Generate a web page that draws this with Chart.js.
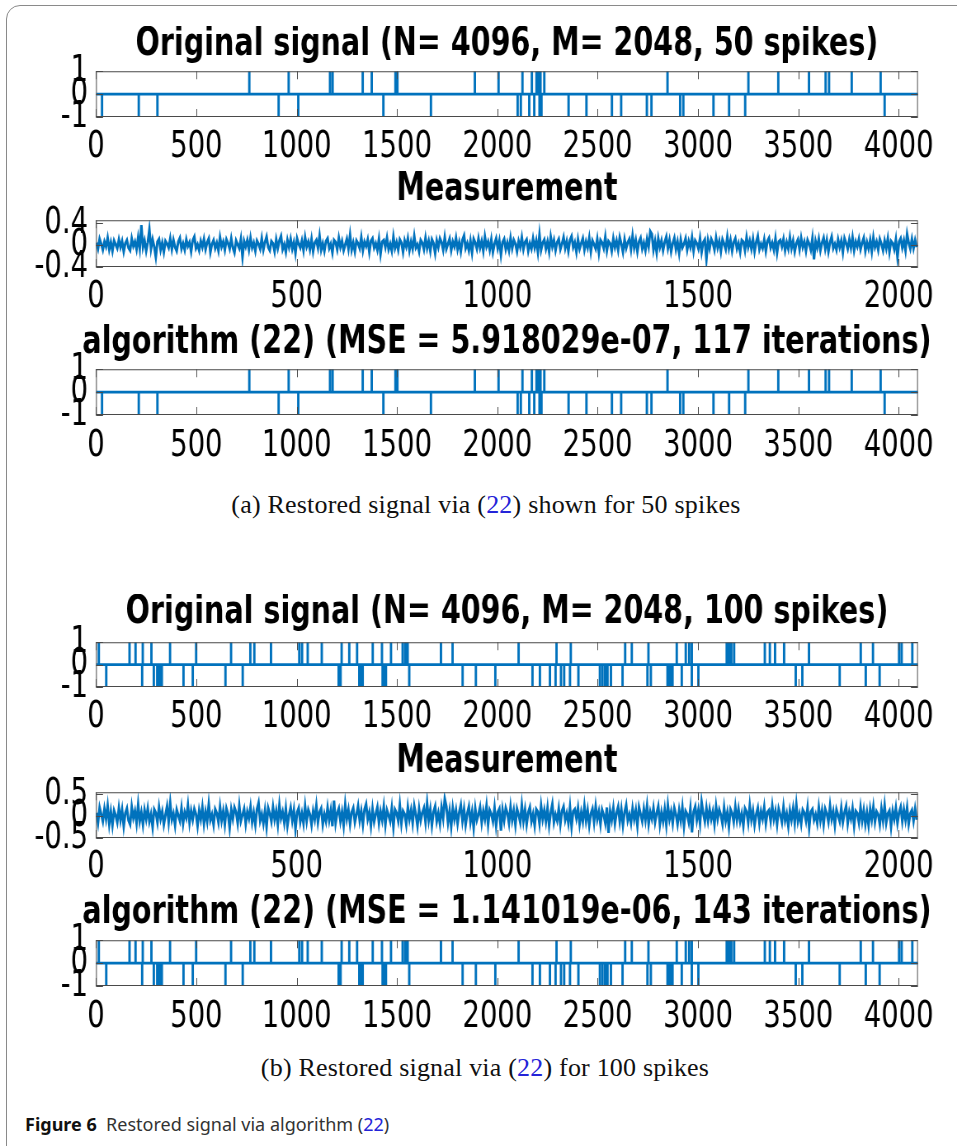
<!DOCTYPE html>
<html>
<head>
<meta charset="utf-8">
<script src="https://cdn.jsdelivr.net/npm/chart.js@4.4.1/dist/chart.umd.min.js"></script>
<style>
html, body { margin: 0; padding: 0; background: #fff; overflow: hidden; width: 957px; height: 1146px; }
#frame { position: absolute; left: 6px; top: 5px; width: 1000px; height: 1200px; border: 1.5px solid #8a8a8a; border-radius: 14px; }
canvas { position: absolute; left: 0; transform-origin: 0 0; }
.cap { position: absolute; font-family: "Liberation Serif", "Times New Roman", serif; font-size: 26px; letter-spacing: 0.2px; color: #111; white-space: nowrap; transform: translate(-50%, -50%); }
.ref { color: #2424d8; }
#fig { position: absolute; left: 25px; top: 1124px; transform: translateY(-50%); font-family: "Noto Sans", sans-serif; font-size: 18px; color: #333; white-space: nowrap; }
#fig b { color: #111; }
</style>
</head>
<body>
<div id="frame"></div>
<canvas id="p1"></canvas>
<canvas id="p2"></canvas>
<canvas id="p3"></canvas>
<div class="cap" style="left:486px;top:505px">(a) Restored signal via (<span class="ref">22</span>) shown for 50 spikes</div>
<canvas id="p4"></canvas>
<canvas id="p5"></canvas>
<canvas id="p6"></canvas>
<div class="cap" style="left:485px;top:1068px">(b) Restored signal via (<span class="ref">22</span>) for 100 spikes</div>
<div id="fig"><b>Figure 6</b>&nbsp; Restored signal via algorithm (<span class="ref">22</span>)</div>
<script>
// ─── DATA ───────────────────────────────────────────────────────────────────────
//
var N = 4096;
var M = 2048;
var X_TICKS_N = [0, 500, 1000, 1500, 2000, 2500, 3000, 3500, 4000];
var X_TICKS_M = [0, 500, 1000, 1500, 2000];
var SPIKE_Y_TICKS = [-1, 0, 1];
var MEAS_A_Y_TICKS = [-0.4, 0, 0.4];
var MEAS_B_Y_TICKS = [-0.5, 0, 0.5];

// spike positions (sample index)
var spikesUpA = [764, 960, 1166, 1179, 1329, 1374, 1492, 1502, 1888, 2006, 2125, 2172, 2195, 2205, 2215, 2234,
    2848, 3251, 3400, 3553, 3636, 3653, 3766, 3910];
var spikesDownA = [30, 213, 306, 910, 1008, 1432, 1669, 2101, 2117, 2159, 2184, 2210, 2220, 2355, 2444, 2571,
    2617, 2745, 2768, 2911, 2927, 3077, 3155, 3235, 3930];
// restored signal looks identical to the original at this scale
var restoredUpA = spikesUpA.slice();
var restoredDownA = spikesDownA.slice();

var spikesUpB = [14, 167, 197, 233, 276, 369, 499, 673, 769, 789, 872, 1013, 1027, 1055, 1125, 1224, 1262, 1301,
    1379, 1425, 1470, 1528, 1541, 1553, 1719, 1777, 2106, 2295, 2366, 2637, 2670, 2753, 2894, 2939, 2956, 2969,
    3143, 3155, 3166, 3180, 3333, 3358, 3384, 3429, 3553, 3811, 3872, 4002, 4015, 4068];
var spikesDownB = [51, 230, 288, 305, 316, 328, 436, 482, 645, 731, 1209, 1219, 1312, 1321, 1329, 1428, 1437, 1445,
    1561, 1827, 1893, 1990, 2175, 2212, 2262, 2290, 2317, 2333, 2362, 2404, 2511, 2524, 2537, 2549, 2566, 2624,
    2748, 2765, 2848, 2857, 2865, 2873, 2919, 2969, 3002, 3487, 3520, 3706, 3836, 3905];
var restoredUpB = spikesUpB.slice();
var restoredDownB = spikesDownB.slice();

var MEAS_STEP = 4;
var measurementA = [
    0.04, -0.07, 0.11, 0.02, -0.09, 0.06, -0.03, 0.13, -0.08, 0.05, -0.11, 0.08, 0.01, -0.06, 0.10, -0.04,
    0.07, -0.12, 0.03, 0.09, -0.05, -0.10, 0.12, -0.02, 0.06, -0.08, 0.14, -0.06, 0.36, -0.04, 0.08, -0.11,
    0.05, 0.28, -0.07, 0.10, -0.03, -0.22, 0.06, 0.11, -0.09, 0.04, -0.13, 0.07, 0.02, -0.05, 0.12, -0.08,
    0.09, -0.04, -0.11, 0.06, 0.13, -0.07, 0.03, -0.09, 0.10, -0.02, 0.05, -0.12, 0.08, 0.15, -0.06, 0.01,
    -0.10, 0.07, -0.04, 0.11, -0.08, 0.05, 0.12, -0.13, 0.02, 0.09, -0.06, 0.04, -0.10, 0.14, -0.03, 0.06,
    -0.09, 0.10, 0.03, -0.07, 0.12, -0.05, -0.14, 0.08, 0.01, -0.06, 0.11, -0.22, 0.07, -0.03, 0.09, -0.08,
    0.13, -0.05, 0.04, -0.11, 0.08, 0.02, -0.07, 0.12, -0.09, 0.05, 0.15, -0.04, -0.10, 0.07, 0.03, -0.12,
    0.10, -0.06, 0.08, 0.16, -0.08, 0.01, -0.13, 0.09, -0.04, 0.11, -0.07, 0.05, -0.15, 0.12, 0.02, -0.05,
    0.08, -0.10, 0.14, -0.03, 0.06, -0.08, 0.11, -0.12, 0.04, 0.09, -0.05, 0.17, -0.09, 0.03, -0.11, 0.07,
    0.12, -0.06, 0.02, -0.14, 0.09, 0.05, -0.08, 0.13, -0.04, 0.07, -0.10, 0.01, 0.11, -0.07, 0.18, -0.09,
    0.04, -0.12, 0.08, 0.03, -0.06, 0.14, -0.10, 0.06, -0.02, 0.10, -0.13, 0.07, 0.12, -0.05, 0.03, -0.09,
    0.11, -0.16, 0.06, 0.09, -0.04, 0.13, -0.08, 0.02, -0.11, 0.15, -0.06, 0.05, -0.09, 0.10, 0.04, -0.13,
    0.08, -0.03, 0.12, -0.10, 0.06, -0.07, 0.16, -0.05, 0.01, -0.12, 0.09, 0.04, -0.08, 0.13, -0.06, 0.07,
    -0.11, 0.10, 0.03, -0.15, 0.08, -0.04, 0.12, 0.05, -0.09, 0.14, -0.07, 0.02, 0.11, -0.10, 0.06, -0.03,
    0.13, -0.08, 0.05, -0.12, 0.09, 0.17, -0.06, 0.03, -0.10, 0.08, -0.14, 0.11, 0.04, -0.07, 0.12, -0.05,
    0.07, -0.11, 0.15, -0.03, 0.06, -0.09, 0.10, -0.13, 0.02, 0.12, -0.06, 0.08, -0.18, 0.05, 0.11, -0.08,
    0.04, -0.10, 0.13, -0.06, 0.09, 0.02, -0.12, 0.07, -0.04, 0.14, -0.08, 0.05, 0.10, -0.11, 0.03, -0.07,
    0.12, -0.05, 0.08, -0.13, 0.19, -0.09, 0.04, 0.10, -0.07, 0.06, -0.12, 0.15, -0.03, 0.09, -0.10, 0.05,
    0.11, -0.08, 0.02, 0.14, -0.06, 0.07, -0.11, 0.09, 0.16, -0.04, 0.05, -0.13, 0.10, -0.07, 0.03, 0.12,
    -0.09, 0.06, -0.05, 0.13, -0.12, 0.08, 0.01, -0.07, 0.11, -0.14, 0.09, 0.04, -0.06, 0.15, -0.10, 0.07,
    0.03, -0.11, 0.12, -0.04, 0.08, -0.09, 0.14, 0.02, -0.13, 0.10, -0.06, 0.05, 0.11, -0.08, 0.17, -0.05,
    0.09, -0.12, 0.06, 0.13, -0.07, 0.04, -0.10, 0.11, -0.03, 0.25, 0.20, -0.09, 0.07, -0.14, 0.12, -0.04,
    0.08, -0.10, 0.05, 0.15, -0.06, 0.09, -0.12, 0.03, 0.13, -0.08, 0.06, -0.15, 0.10, -0.05, 0.02, 0.12,
    -0.09, 0.07, -0.04, 0.14, -0.11, 0.08, 0.03, -0.07, 0.12, -0.13, 0.05, 0.10, -0.26, 0.08, -0.06, 0.11,
    0.04, -0.09, 0.13, -0.05, 0.07, -0.12, 0.10, 0.02, -0.08, 0.15, -0.06, 0.09, -0.11, 0.05, 0.12, -0.07,
    0.03, -0.13, 0.09, 0.06, -0.10, 0.14, -0.04, 0.08, -0.07, 0.11, -0.12, 0.05, 0.16, -0.08, 0.02, -0.06,
    0.10, -0.11, 0.07, 0.13, -0.05, 0.04, -0.09, 0.12, -0.14, 0.06, 0.09, -0.03, 0.11, -0.10, 0.05, -0.07,
    0.14, -0.06, 0.08, -0.12, 0.03, 0.10, -0.08, 0.13, -0.04, 0.06, -0.11, 0.09, 0.02, -0.09, 0.12, -0.26,
    0.07, -0.05, 0.11, -0.10, 0.04, 0.13, -0.07, 0.09, -0.12, 0.05, 0.15, -0.06, 0.02, -0.09, 0.10, -0.04,
    0.08, -0.13, 0.12, 0.03, -0.07, 0.10, -0.05, 0.14, -0.10, 0.06, -0.03, 0.11, -0.08, 0.04, 0.13, -0.11,
    0.05, -0.07, 0.09, -0.12, 0.14, -0.04, 0.06, -0.09, 0.11, 0.02, -0.10, 0.08, -0.06, 0.12, -0.13, 0.07,
    0.03, -0.08, 0.10, -0.22, 0.06, 0.12, -0.05, 0.08, -0.10, 0.20, 0.04, -0.07, 0.11, -0.06, 0.09, -0.04
];
var measurementB = [
    0.08, -0.15, 0.20, 0.04, -0.12, 0.17, -0.06, 0.24, -0.18, 0.10, -0.21, 0.13, 0.02, -0.14, 0.19, -0.09,
    0.15, -0.23, 0.07, 0.18, -0.10, -0.19, 0.22, -0.04, 0.12, -0.16, 0.27, -0.11, 0.09, -0.20, 0.14, -0.07,
    0.18, -0.12, 0.05, -0.25, 0.16, 0.08, -0.14, 0.21, -0.06, 0.11, -0.19, 0.03, 0.23, -0.13, 0.30, -0.08,
    0.06, -0.21, 0.15, 0.02, -0.11, 0.19, -0.17, 0.09, -0.04, 0.26, -0.15, 0.12, -0.08, 0.17, 0.05, -0.22,
    0.13, -0.07, 0.21, -0.18, 0.10, -0.12, 0.28, -0.09, 0.04, -0.20, 0.16, 0.07, -0.14, 0.22, -0.10, 0.12,
    -0.19, 0.18, 0.05, -0.27, 0.15, -0.06, 0.20, 0.09, -0.16, 0.24, -0.11, 0.03, 0.17, -0.18, 0.10, -0.05,
    0.22, -0.14, 0.08, -0.20, 0.16, 0.31, -0.10, 0.05, -0.17, 0.13, -0.24, 0.19, 0.06, -0.12, 0.21, -0.08,
    0.12, -0.19, 0.26, -0.05, 0.10, -0.15, 0.18, -0.22, 0.03, 0.20, -0.10, 0.14, -0.30, 0.09, 0.19, -0.13,
    0.07, -0.17, 0.23, -0.11, 0.15, 0.04, -0.20, 0.12, -0.07, 0.25, -0.14, 0.09, 0.18, -0.19, 0.05, -0.12,
    0.20, -0.09, 0.14, -0.23, 0.36, -0.16, 0.07, 0.18, -0.12, 0.10, -0.21, 0.27, -0.06, 0.15, -0.18, 0.09,
    0.19, -0.14, 0.04, 0.24, -0.10, 0.12, -0.19, 0.16, 0.28, -0.07, 0.09, -0.22, 0.17, -0.13, 0.05, 0.21,
    -0.16, 0.11, -0.09, 0.22, -0.20, 0.14, 0.02, -0.12, 0.19, -0.25, 0.15, 0.07, -0.11, 0.26, -0.17, 0.12,
    0.05, -0.19, 0.21, -0.07, 0.14, -0.16, 0.24, 0.04, -0.22, 0.17, -0.10, 0.08, 0.19, -0.14, 0.30, -0.09,
    0.16, -0.21, 0.10, 0.23, -0.12, 0.07, -0.18, 0.20, -0.05, 0.40, 0.22, -0.15, 0.12, -0.24, 0.19, -0.07,
    0.14, -0.17, 0.09, 0.26, -0.11, 0.16, -0.20, 0.06, 0.22, -0.14, 0.10, -0.27, 0.18, -0.09, 0.04, 0.21,
    -0.15, 0.12, -0.07, 0.24, -0.19, 0.14, 0.05, -0.12, 0.20, -0.22, 0.09, 0.17, -0.33, 0.14, -0.10, 0.19,
    0.07, -0.16, 0.22, -0.09, 0.13, -0.20, 0.17, 0.03, -0.14, 0.26, -0.11, 0.15, -0.19, 0.09, 0.21, -0.12,
    0.05, -0.22, 0.16, 0.10, -0.17, 0.24, -0.07, 0.14, -0.12, 0.19, -0.21, 0.08, 0.28, -0.14, 0.04, -0.10,
    0.17, -0.19, 0.12, 0.22, -0.09, 0.07, -0.16, 0.21, -0.24, 0.11, 0.16, -0.05, 0.19, -0.18, 0.09, -0.12,
    0.24, -0.10, 0.14, -0.21, 0.06, 0.17, -0.14, 0.23, -0.07, 0.11, -0.19, 0.15, 0.03, -0.16, 0.20, -0.38,
    0.12, -0.09, 0.19, -0.17, 0.07, 0.22, -0.12, 0.16, -0.21, 0.09, 0.26, -0.10, 0.04, -0.16, 0.18, -0.07,
    0.14, -0.22, 0.21, 0.05, -0.12, 0.17, -0.09, 0.24, -0.18, 0.10, -0.06, 0.19, -0.14, 0.07, 0.23, -0.19,
    0.09, -0.12, 0.16, -0.20, 0.25, -0.07, 0.11, -0.16, 0.19, 0.04, -0.18, 0.14, -0.10, 0.21, -0.23, 0.12,
    0.05, -0.14, 0.18, -0.37, 0.10, 0.22, -0.09, 0.14, -0.17, 0.33, 0.07, -0.12, 0.19, -0.10, 0.16, -0.07,
    0.11, -0.19, 0.23, -0.06, 0.15, 0.03, -0.18, 0.20, -0.11, 0.09, -0.24, 0.16, 0.07, -0.13, 0.22, -0.09,
    0.16, -0.12, 0.06, -0.22, 0.18, 0.10, -0.15, 0.25, -0.08, 0.13, -0.20, 0.04, 0.19, -0.16, 0.11, -0.06,
    0.21, -0.17, 0.09, 0.14, -0.11, 0.24, -0.07, 0.12, -0.19, 0.17, 0.03, -0.14, 0.22, -0.10, 0.06, -0.23,
    0.13, -0.08, 0.18, -0.15, 0.27, -0.12, 0.05, -0.18, 0.15, 0.08, -0.11, 0.20, -0.26, 0.10, 0.16, -0.09,
    0.04, -0.16, 0.21, -0.10, 0.13, -0.19, 0.17, 0.06, -0.13, 0.24, -0.07, 0.11, -0.21, 0.15, 0.02, -0.12,
    0.19, -0.14, 0.08, 0.23, -0.17, 0.10, -0.06, 0.18, -0.22, 0.12, 0.07, -0.15, 0.20, -0.11, 0.14, -0.18,
    0.09, -0.21, 0.16, -0.08, 0.22, -0.13, 0.11, 0.04, -0.19, 0.17, -0.10, 0.25, -0.15, 0.06, 0.13, -0.24,
    0.12, -0.07, 0.19, -0.16, 0.08, 0.21, -0.12, 0.15, -0.09, 0.20, -0.18, 0.06, 0.14, -0.11, 0.17, -0.08
];

// ─── HELPERS ────────────────────────────────────────────────────────────────────
//
var LINE_BLUE = '#0072BD';
var NARROW = '"Liberation Sans Narrow", "DejaVu Sans Condensed", "Liberation Sans", sans-serif';
var SQUEEZE = 0.825;          // the figure text is horizontally compressed
var TITLE_SIZE = 38.5;
var TICK_SIZE = 37;
var X_AXIS_H = 60;
var SIDE_W = 96;
var PAGE_W = 1014;

function spikeSeries(ups, downs, n) {
    var marks = [];
    ups.forEach(function (p) { marks.push([p, 1]); });
    downs.forEach(function (p) { marks.push([p, -1]); });
    marks.sort(function (a, b) { return a[0] - b[0]; });
    var pts = [{ x: 1, y: 0 }];
    marks.forEach(function (m) {
        pts.push({ x: m[0], y: 0 }, { x: m[0], y: m[1] }, { x: m[0], y: 0 });
    });
    pts.push({ x: n, y: 0 });
    return pts;
}

function measurementSeries(values) {
    return values.map(function (v, i) { return { x: i * MEAS_STEP + 1, y: v }; });
}

// matlab style box with inward ticks
var boxPlugin = {
    id: 'matlabBox',
    afterDatasetsDraw: function (chart) {
        var a = chart.chartArea, c = chart.ctx;
        var xs = chart.scales.x, ys = chart.scales.y;
        var xl = 7 / SQUEEZE;
        c.save();
        c.strokeStyle = '#4a4a4a';
        c.lineWidth = 1;
        c.strokeRect(a.left + 0.5, a.top + 0.5, a.right - a.left - 1, a.bottom - a.top - 1);
        c.beginPath();
        xs.ticks.forEach(function (t) {
            var px = Math.round(xs.getPixelForValue(t.value)) + 0.5;
            c.moveTo(px, a.bottom); c.lineTo(px, a.bottom - 8);
            c.moveTo(px, a.top); c.lineTo(px, a.top + 8);
        });
        ys.ticks.forEach(function (t) {
            var py = Math.round(ys.getPixelForValue(t.value)) + 0.5;
            c.moveTo(a.left, py); c.lineTo(a.left + xl, py);
            c.moveTo(a.right, py); c.lineTo(a.right - xl, py);
        });
        c.stroke();
        c.restore();
    }
};

function makePanel(id, p) {
    var canvas = document.getElementById(id);
    var top = p.titleY - TITLE_SIZE / 2;
    canvas.width = Math.round(PAGE_W / SQUEEZE);
    canvas.height = Math.round(p.boxBottom - top + X_AXIS_H);
    canvas.style.top = top + 'px';
    canvas.style.transform = 'scaleX(' + SQUEEZE + ')';
    var tickFont = { family: NARROW, size: TICK_SIZE, lineHeight: 1 };
    return new Chart(canvas.getContext('2d'), {
        type: 'line',
        data: {
            datasets: [{
                data: p.data,
                borderColor: LINE_BLUE,
                borderWidth: p.lineWidth,
                pointRadius: 0,
                tension: 0,
                fill: false
            }]
        },
        options: {
            responsive: false,
            animation: false,
            devicePixelRatio: 1,
            layout: { padding: 0 },
            plugins: {
                legend: { display: false },
                tooltip: { enabled: false },
                title: {
                    display: true,
                    text: p.title,
                    color: '#000',
                    font: { family: NARROW, size: TITLE_SIZE, weight: 'bold', lineHeight: 1 },
                    padding: { top: 0, bottom: p.boxTop - p.titleY - TITLE_SIZE / 2 }
                }
            },
            scales: {
                x: {
                    type: 'linear',
                    min: 0,
                    max: p.xMax,
                    afterBuildTicks: function (s) { s.ticks = p.xTicks.map(function (v) { return { value: v }; }); },
                    afterFit: function (s) { s.height = X_AXIS_H; },
                    grid: { display: false, drawTicks: false },
                    border: { display: false },
                    ticks: {
                        font: tickFont, color: '#000', maxRotation: 0, autoSkip: false,
                        padding: p.labelY - p.boxBottom - TICK_SIZE / 2,
                        callback: function (v) { return String(v); }
                    }
                },
                y: {
                    type: 'linear',
                    min: p.yMin,
                    max: p.yMax,
                    afterBuildTicks: function (s) { s.ticks = p.yTicks.map(function (v) { return { value: v }; }); },
                    afterFit: function (s) { s.width = SIDE_W / SQUEEZE; },
                    grid: { display: false, drawTicks: false },
                    border: { display: false },
                    ticks: {
                        font: tickFont, color: '#000', autoSkip: false, padding: 8 / SQUEEZE,
                        callback: function (v) { return String(v); }
                    }
                },
                y2: {
                    position: 'right',
                    afterFit: function (s) { s.width = SIDE_W / SQUEEZE; },
                    grid: { display: false, drawTicks: false },
                    border: { display: false },
                    ticks: { display: false }
                }
            }
        },
        plugins: [boxPlugin]
    });
}

// ─── PANELS ─────────────────────────────────────────────────────────────────────
//
makePanel('p1', {
    title: 'Original signal (N= 4096, M= 2048, 50 spikes)',
    titleY: 45, boxTop: 71, boxBottom: 117, labelY: 147,
    xMax: N, xTicks: X_TICKS_N, yMin: -1, yMax: 1, yTicks: SPIKE_Y_TICKS,
    data: spikeSeries(spikesUpA, spikesDownA, N), lineWidth: 2.9
});
makePanel('p2', {
    title: 'Measurement',
    titleY: 190, boxTop: 220, boxBottom: 267, labelY: 297,
    xMax: M, xTicks: X_TICKS_M, yMin: -0.4, yMax: 0.45, yTicks: MEAS_A_Y_TICKS,
    data: measurementSeries(measurementA), lineWidth: 3
});
makePanel('p3', {
    title: 'algorithm (22) (MSE = 5.918029e-07, 117 iterations)',
    titleY: 343, boxTop: 369, boxBottom: 415, labelY: 446,
    xMax: N, xTicks: X_TICKS_N, yMin: -1, yMax: 1, yTicks: SPIKE_Y_TICKS,
    data: spikeSeries(restoredUpA, restoredDownA, N), lineWidth: 2.9
});
makePanel('p4', {
    title: 'Original signal (N= 4096, M= 2048, 100 spikes)',
    titleY: 613, boxTop: 642, boxBottom: 687, labelY: 717,
    xMax: N, xTicks: X_TICKS_N, yMin: -1, yMax: 1, yTicks: SPIKE_Y_TICKS,
    data: spikeSeries(spikesUpB, spikesDownB, N), lineWidth: 2.9
});
makePanel('p5', {
    title: 'Measurement',
    titleY: 762, boxTop: 792, boxBottom: 838, labelY: 867,
    xMax: M, xTicks: X_TICKS_M, yMin: -0.5, yMax: 0.55, yTicks: MEAS_B_Y_TICKS,
    data: measurementSeries(measurementB), lineWidth: 3
});
makePanel('p6', {
    title: 'algorithm (22) (MSE = 1.141019e-06, 143 iterations)',
    titleY: 913, boxTop: 940, boxBottom: 986, labelY: 1017,
    xMax: N, xTicks: X_TICKS_N, yMin: -1, yMax: 1, yTicks: SPIKE_Y_TICKS,
    data: spikeSeries(restoredUpB, restoredDownB, N), lineWidth: 2.9
});
</script>
</body>
</html>
